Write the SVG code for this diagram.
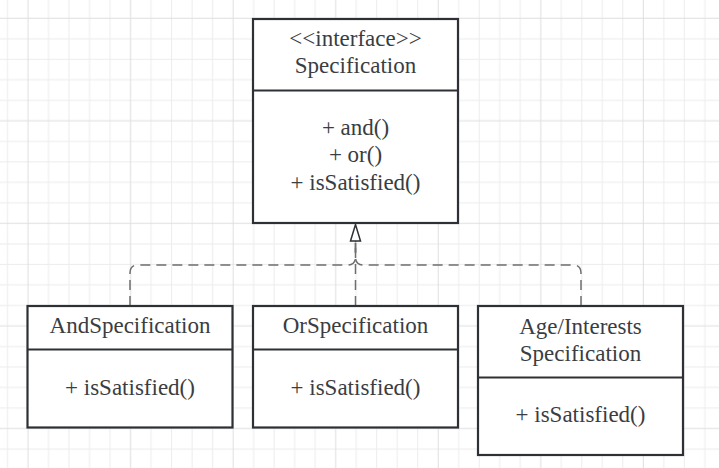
<svg xmlns="http://www.w3.org/2000/svg" width="719" height="468" viewBox="0 0 719 468">
<style>
.box{fill:#ffffff;stroke:#2d3035;stroke-width:2.2}
.t{font-family:"Liberation Serif","Times New Roman",serif;font-size:23px;fill:#3a3d42;text-anchor:middle}
.dash{fill:none;stroke:#6e6e6e;stroke-width:1.5;stroke-dasharray:10 6}
.minor{stroke:#ececec;stroke-width:1}
.major{stroke:#dedede;stroke-width:1}
</style>
<defs>
<pattern id="grid" patternUnits="userSpaceOnUse" x="17.74" y="8.04" width="102.55" height="102.55">
<line class="minor" x1="30.77" y1="0" x2="30.77" y2="102.55"/>
<line class="minor" x1="51.28" y1="0" x2="51.28" y2="102.55"/>
<line class="minor" x1="71.79" y1="0" x2="71.79" y2="102.55"/>
<line class="minor" x1="92.3" y1="0" x2="92.3" y2="102.55"/>
<line class="minor" x1="0" y1="30.77" x2="102.55" y2="30.77"/>
<line class="minor" x1="0" y1="51.28" x2="102.55" y2="51.28"/>
<line class="minor" x1="0" y1="71.79" x2="102.55" y2="71.79"/>
<line class="minor" x1="0" y1="92.3" x2="102.55" y2="92.3"/>
<line class="major" x1="10.26" y1="0" x2="10.26" y2="102.55"/>
<line class="major" x1="0" y1="10.26" x2="102.55" y2="10.26"/>
</pattern>
</defs>
<rect x="0" y="0" width="719" height="468" fill="#ffffff"/>
<rect x="0" y="0" width="719" height="468" fill="url(#grid)"/>

<g id="connectors">
<path class="dash" d="M130,306 V273 Q130,265 138,265 H347.5 Q355.5,265 355.5,257 V241"/>
<path class="dash" d="M581,306 V273 Q581,265 573,265 H363.5 Q355.5,265 355.5,257 V241"/>
<path class="dash" d="M355.5,306 V241"/>
<polygon points="355.5,224.5 350.5,241 360.5,241" fill="#ffffff" stroke="#2d3035" stroke-width="1.5" stroke-linejoin="miter"/>
</g>

<g id="Specification">
<rect class="box" x="253" y="19" width="205" height="204"/>
<line class="box" x1="253" y1="90.5" x2="458" y2="90.5"/>
<text class="t" x="355.5" y="45.5">&lt;&lt;interface&gt;&gt;</text>
<text class="t" x="355.5" y="73">Specification</text>
<text class="t" x="355.5" y="134.5">+ and()</text>
<text class="t" x="355.5" y="162">+ or()</text>
<text class="t" x="355.5" y="189.5">+ isSatisfied()</text>
</g>

<g id="AndSpecification">
<rect class="box" x="27.5" y="306" width="205" height="121.5"/>
<line class="box" x1="27.5" y1="349.5" x2="232.5" y2="349.5"/>
<text class="t" x="130" y="332.5">AndSpecification</text>
<text class="t" x="130" y="394.5">+ isSatisfied()</text>
</g>

<g id="OrSpecification">
<rect class="box" x="253" y="306" width="205" height="121.5"/>
<line class="box" x1="253" y1="349.5" x2="458" y2="349.5"/>
<text class="t" x="355.5" y="332.5">OrSpecification</text>
<text class="t" x="355.5" y="394.5">+ isSatisfied()</text>
</g>

<g id="AgeInterestsSpecification">
<rect class="box" x="478" y="306" width="205" height="149"/>
<line class="box" x1="478" y1="377.5" x2="683" y2="377.5"/>
<text class="t" x="580.5" y="333.5">Age/Interests</text>
<text class="t" x="580.5" y="360.5">Specification</text>
<text class="t" x="580.5" y="421.5">+ isSatisfied()</text>
</g>
</svg>
